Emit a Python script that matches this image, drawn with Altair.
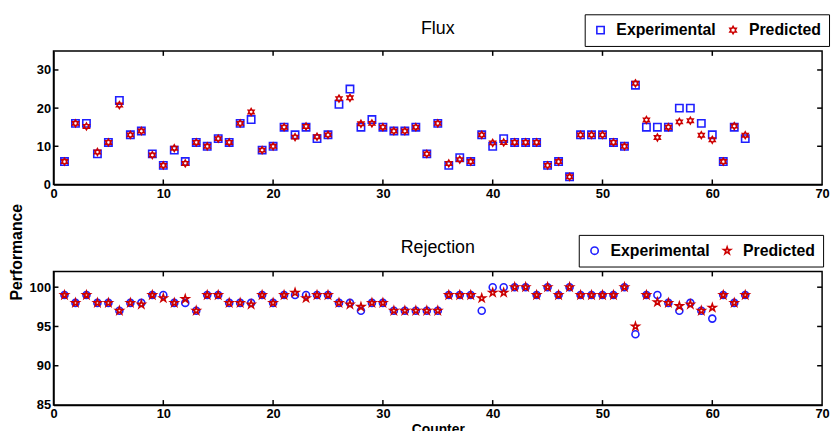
import altair as alt
import pandas as pd

# ---------------- data ----------------
counter = list(range(1, 64))
series = ["Experimental", "Predicted"]

flux_exp = [6, 16, 16, 8, 11, 22, 13, 14, 8, 5, 9, 6, 11, 10, 12, 11, 16, 17, 9, 10,
            15, 13, 15, 12, 13, 21, 25, 15, 17, 15, 14, 14, 15, 8, 16, 5, 7, 6, 13, 10,
            12, 11, 11, 11, 5, 6, 2, 13, 13, 13, 11, 10, 26, 15, 15, 15, 20, 20, 16, 13,
            6, 15, 12]
flux_pred = [6, 16, 15.2, 8.5, 11, 20.8, 13, 14, 7.7, 5, 9.5, 5.5, 11, 10, 12, 11, 16, 19, 9, 10,
             15, 12.4, 15.2, 12.5, 13, 22.5, 22.7, 15.9, 16, 15, 14, 14, 15, 8, 16, 5.5, 6.5, 6, 13, 10.9,
             11, 11, 11, 11, 5, 6, 2, 13, 13, 13, 11, 10, 26.5, 16.9, 12.3, 15, 16.4, 16.7, 12.9, 11.7,
             6, 15.3, 12.9]
rej_exp = [99, 98, 99, 98, 98, 97, 98, 98, 99, 99, 98, 98, 97, 99, 99, 98, 98, 98, 99, 98,
           99, 99, 99, 99, 99, 98, 98, 97, 98, 98, 97, 97, 97, 97, 97, 99, 99, 99, 97, 100,
           100, 100, 100, 99, 100, 99, 100, 99, 99, 99, 99, 100, 94, 99, 99, 98, 97, 98, 97, 96,
           99, 98, 99]
rej_pred = [99, 98, 99, 98, 98, 97, 98, 97.8, 99, 98.6, 98, 98.5, 97, 99, 99, 98, 98, 97.8, 99, 98,
            99, 99.3, 98.6, 99, 99, 98, 97.8, 97.5, 98, 98, 97, 97, 97, 97, 97, 99, 99, 99, 98.6, 99.3,
            99.3, 100, 100, 99, 100, 99, 100, 99, 99, 99, 99, 100, 95, 99, 98.1, 98, 97.6, 97.8, 97, 97.4,
            99, 98, 99]

x_ticks = [0, 10, 20, 30, 40, 50, 60, 70]
x_inner = [10, 20, 30, 40, 50, 60]
flux_ticks = [0, 10, 20, 30]
flux_inner = [10, 20, 30]
rej_ticks = [85, 90, 95, 100]
rej_inner = [90, 95, 100]

# ---------------- style ----------------
W, H = 777, 135
FONT = "Liberation Sans"
BLUE = "#1f1fff"
RED = "#cc0000"
HEX = ("M0,-1L0.289,-0.5L0.866,-0.5L0.577,0L0.866,0.5L0.289,0.5L0,1"
       "L-0.289,0.5L-0.866,0.5L-0.577,0L-0.866,-0.5L-0.289,-0.5Z")
STAR = ("M0,-1L0.225,-0.309L0.951,-0.309L0.363,0.118L0.588,0.809L0,0.382"
        "L-0.588,0.809L-0.363,0.118L-0.951,-0.309L-0.225,-0.309Z")


def long_df(exp, pred):
    return pd.DataFrame({
        "Counter": counter * 2,
        "value": exp + pred,
        "Series": [series[0]] * len(exp) + [series[1]] * len(pred),
    })


def panel(df, ydomain, yticks, yinner, shapes, sizes, title, title_dy, legend_x, bottom):
    x_enc = alt.X("Counter:Q",
                  scale=alt.Scale(domain=[0, 70], nice=False, zero=False),
                  axis=alt.Axis(values=x_ticks, title="Counter" if bottom else None,
                                labelFlush=False, titleFontSize=14, titlePadding=2))
    if bottom:
        y_axis = alt.Axis(values=yticks, title="Performance", titleX=-37, titleY=-20,
                          titleAngle=270, titleAlign="center", titleBaseline="middle",
                          titleFontSize=16)
    else:
        y_axis = alt.Axis(values=yticks, title=None)
    y_enc = alt.Y("value:Q", scale=alt.Scale(domain=ydomain, nice=False, zero=False), axis=y_axis)

    color = alt.Color("Series:N", scale=alt.Scale(domain=series, range=[BLUE, RED]),
                      legend=alt.Legend(orient="none", legendX=legend_x, legendY=-37,
                                        direction="horizontal", title=None))
    shape = alt.Shape("Series:N", scale=alt.Scale(domain=series, range=shapes),
                      legend=alt.Legend(orient="none", legendX=legend_x, legendY=-37,
                                        direction="horizontal", title=None))

    base = alt.Chart(df)
    exp_layer = base.transform_filter(alt.datum.Series == series[0]).mark_point(
        filled=False, size=sizes[0], strokeWidth=1.6, opacity=1
    ).encode(x=x_enc, y=y_enc, color=color, shape=shape)
    pred_layer = base.transform_filter(alt.datum.Series == series[1]).mark_point(
        filled=False, size=sizes[1], strokeWidth=1.6, opacity=1
    ).encode(x=x_enc, y=y_enc, color=color, shape=shape)

    xt = pd.DataFrame({"Counter": x_inner})
    yt = pd.DataFrame({"value": yinner})
    tb = alt.Chart(xt).mark_rule(color="black", strokeWidth=1.5).encode(
        x=x_enc, y=alt.value(H), y2=alt.value(H - 5))
    tt = alt.Chart(xt).mark_rule(color="black", strokeWidth=1.5).encode(
        x=x_enc, y=alt.value(0), y2=alt.value(5))
    tl = alt.Chart(yt).mark_rule(color="black", strokeWidth=1.5).encode(
        y=y_enc, x=alt.value(0), x2=alt.value(5))
    tr = alt.Chart(yt).mark_rule(color="black", strokeWidth=1.5).encode(
        y=y_enc, x=alt.value(W - 5), x2=alt.value(W))

    return alt.layer(exp_layer, pred_layer, tb, tt, tl, tr).properties(
        width=W, height=H, title=alt.TitleParams(title, dy=title_dy)
    )


top = panel(long_df(flux_exp, flux_pred), [0, 35], flux_ticks, flux_inner,
            ["square", HEX], [55, 45], "Flux", 38, 537, False)
bottom = panel(long_df(rej_exp, rej_pred), [85, 102], rej_ticks, rej_inner,
               ["circle", STAR], [50, 60], "Rejection", 68, 531, True)

chart = alt.vconcat(top, bottom, spacing=88, bounds="flush").resolve_scale(
    color="independent", shape="independent"
).properties(
    padding={"left": 0, "top": 2, "right": 0, "bottom": 0}
).configure_view(
    stroke="black", strokeWidth=1.5
).configure_axis(
    labelFont=FONT, labelFontSize=13, labelFontWeight="bold", labelColor="black",
    titleFont=FONT, titleFontWeight="bold", titleColor="black",
    ticks=False, grid=False, domainColor="black", domainWidth=1.5, labelPadding=3
).configure_title(
    font=FONT, fontSize=18, fontWeight="normal", color="black", anchor="middle",
    offset=14, frame="group"
).configure_legend(
    labelFont=FONT, labelFontSize=16, labelFontWeight="bold", labelColor="black",
    strokeColor="black", fillColor="white", padding=8, symbolSize=55,
    symbolStrokeWidth=1.6, columnPadding=9, labelOffset=8
)

chart.save("out.html", embed_options={"renderer": "svg", "actions": False})
